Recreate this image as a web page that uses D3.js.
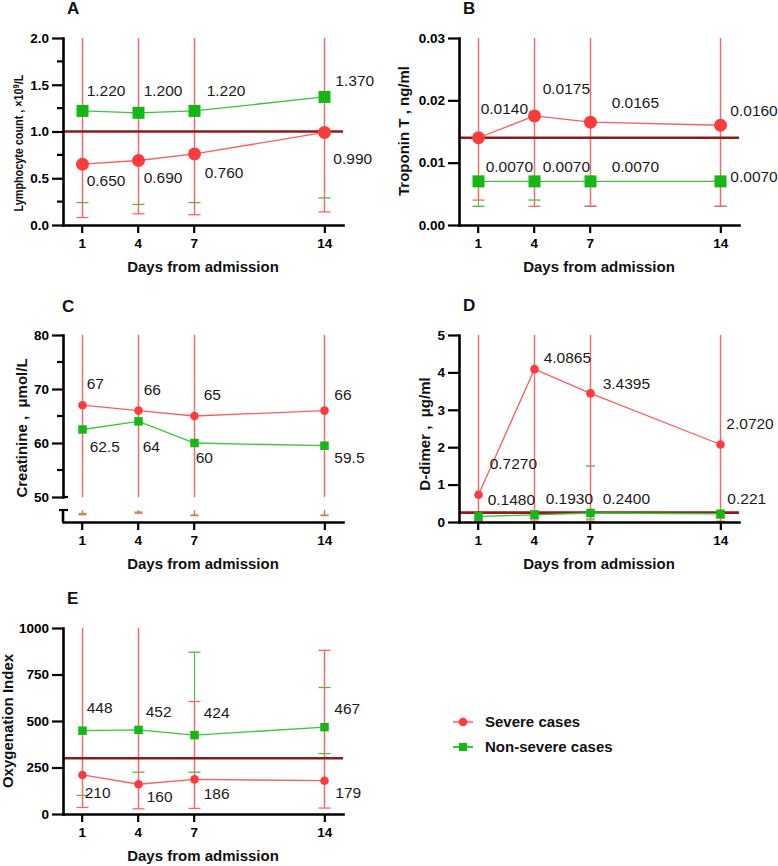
<!DOCTYPE html>
<html><head><meta charset="utf-8">
<script src="https://cdn.jsdelivr.net/npm/d3@7"></script>
<style>
html,body{margin:0;padding:0;background:#fff;}
svg{display:block;}
text{font-family:Arial,"Liberation Sans",Helvetica,sans-serif;}
</style></head><body><svg id="chart" width="778" height="866"></svg>
<script>
// ---------------- data ----------------
const days = [1, 4, 7, 14];
const dayTickLabels = ["1", "4", "7", "14"];
const xDomain = [0, 15];
const seriesNames = ["Severe cases", "Non-severe cases"];
const xTitle = "Days from admission";

// A: lymphocyte count
const lymphSevere = [0.650, 0.690, 0.760, 0.990];
const lymphSevereLow = [0.08, 0.12, 0.11, 0.14];
const lymphSevereHigh = [2.6, 2.6, 2.6, 2.6];
const lymphNonSevere = [1.220, 1.200, 1.220, 1.370];
const lymphNonSevereLow = [0.24, 0.22, 0.24, 0.29];
const lymphNonSevereHigh = [2.4, 2.4, 2.4, 2.4];
const lymphSevereText = ["0.650", "0.690", "0.760", "0.990"];
const lymphNonSevereText = ["1.220", "1.200", "1.220", "1.370"];
const lymphTicks = [0, 0.5, 1.0, 1.5, 2.0];
const lymphTickLabels = ["0.0", "0.5", "1.0", "1.5", "2.0"];
const lymphMinorTicks = [0.25, 0.75, 1.25, 1.75];
const lymphReference = 1.0;

// B: troponin T
const tropSevere = [0.0140, 0.0175, 0.0165, 0.0160];
const tropSevereLow = [0.004, 0.003, 0.003, 0.003];
const tropSevereHigh = [0.04, 0.04, 0.04, 0.04];
const tropNonSevere = [0.0070, 0.0070, 0.0070, 0.0070];
const tropNonSevereLow = [0.003, 0.004, 0.003, 0.003];
const tropNonSevereHigh = [0.035, 0.035, 0.035, 0.035];
const tropSevereText = ["0.0140", "0.0175", "0.0165", "0.0160"];
const tropNonSevereText = ["0.0070", "0.0070", "0.0070", "0.0070"];
const tropTicks = [0, 0.01, 0.02, 0.03];
const tropTickLabels = ["0.00", "0.01", "0.02", "0.03"];
const tropReference = 0.014;

// C: creatinine (axis broken below 50)
const creatSevere = [67, 66, 65, 66];
const creatSevereLow = [27, 33, 24, 24];
const creatSevereHigh = [95, 95, 95, 95];
const creatNonSevere = [62.5, 64, 60, 59.5];
const creatNonSevereLow = [32, 37, 26, 26];
const creatNonSevereHigh = [90, 90, 90, 90];
const creatSevereText = ["67", "66", "65", "66"];
const creatNonSevereText = ["62.5", "64", "60", "59.5"];
const creatTicks = [50, 60, 70, 80];
const creatTickLabels = ["50", "60", "70", "80"];
const creatMinorTicks = [55, 65, 75];
const creatLowerDomain = [0, 45];

// D: D-dimer
const dimerSevere = [0.7270, 4.0865, 3.4395, 2.0720];
const dimerSevereLow = [0.02, 0.02, 0.02, 0.02];
const dimerSevereHigh = [6, 6, 6, 6];
const dimerNonSevere = [0.1480, 0.1930, 0.2400, 0.221];
const dimerNonSevereLow = [0.05, 0.08, 0.08, 0.1];
const dimerNonSevereHigh = [0.25, 0.3, 1.5, 0.3];
const dimerSevereText = ["0.7270", "4.0865", "3.4395", "2.0720"];
const dimerNonSevereText = ["0.1480", "0.1930", "0.2400", "0.221"];
const dimerTicks = [0, 1, 2, 3, 4, 5];
const dimerTickLabels = ["0", "1", "2", "3", "4", "5"];
const dimerReference = 0.25;

// E: oxygenation index
const oxySevere = [210, 160, 186, 179];
const oxySevereLow = [35, 28, 30, 32];
const oxySevereHigh = [1100, 1100, 605, 880];
const oxyNonSevere = [448, 452, 424, 467];
const oxyNonSevereLow = [100, 225, 225, 325];
const oxyNonSevereHigh = [1100, 1100, 870, 680];
const oxySevereText = ["210", "160", "186", "179"];
const oxyNonSevereText = ["448", "452", "424", "467"];
const oxyTicks = [0, 250, 500, 750, 1000];
const oxyTickLabels = ["0", "250", "500", "750", "1000"];
const oxyReference = 300;

// ---------------- style ----------------
const RED = "#fa3c3c", RED_LINE = "#ff5c5c", RED_ERR = "#ff6464";
const GREEN = "#14b814", GREEN_LINE = "#3cc43c", GREEN_ERR = "#3cc43c";
const REF = "#8e1a1a";

// ---------------- panels (data + layout) ----------------
const panels = [
  { letter: "A", letterPos: [67, 14], x0: 63, x1: 343, yTop: 38, yBottom: 225, axisY: 225,
    domain: [0, 2], ticks: lymphTicks, tickLabels: lymphTickLabels, minor: lymphMinorTicks,
    ref: lymphReference, title: ["Lymphocyte count , ×10", "9", "/L"], titleSize: 12, titleLen: 137, titlePos: [19, 143],
    xTitleY: 272, r: 6.5, sq: 12, capW: 12,
    severe: { v: lymphSevere, lo: lymphSevereLow, hi: lymphSevereHigh, text: lymphSevereText,
      off: [[5, 16], [6, 17.5], [11, 19], [9, 26]] },
    non: { v: lymphNonSevere, lo: lymphNonSevereLow, hi: lymphNonSevereHigh, text: lymphNonSevereText,
      off: [[5, -20], [6, -22], [13, -20], [11, -16]] } },
  { letter: "B", letterPos: [463, 14], x0: 459, x1: 739, yTop: 38, yBottom: 225, axisY: 225,
    domain: [0, 0.03], ticks: tropTicks, tickLabels: tropTickLabels, minor: [],
    ref: tropReference, title: ["Troponin T , ng/ml"], titleSize: 15, titlePos: [404, 131],
    xTitleY: 272, r: 6.5, sq: 12, capW: 12,
    severe: { v: tropSevere, lo: tropSevereLow, hi: tropSevereHigh, text: tropSevereText,
      off: [[3, -29], [9, -27], [22, -20], [10, -15]] },
    non: { v: tropNonSevere, lo: tropNonSevereLow, hi: tropNonSevereHigh, text: tropNonSevereText,
      off: [[8, -15], [9, -15], [22, -15], [10, -5]] } },
  { letter: "C", letterPos: [62, 312], x0: 63, x1: 343, yTop: 335, yBottom: 497, axisY: 522,
    lowerDomain: creatLowerDomain, lowerRange: [522, 510],
    domain: [50, 80], ticks: creatTicks, tickLabels: creatTickLabels, minor: creatMinorTicks,
    ref: null, title: ["Creatinine ,  μmol/L"], titleSize: 15, titlePos: [22, 428],
    xTitleY: 569, r: 4.3, sq: 8.5, capW: 8,
    severe: { v: creatSevere, lo: creatSevereLow, hi: creatSevereHigh, text: creatSevereText,
      off: [[5, -22], [6, -21], [10, -21], [10, -16]] },
    non: { v: creatNonSevere, lo: creatNonSevereLow, hi: creatNonSevereHigh, text: creatNonSevereText,
      off: [[8, 17.5], [5, 25.6], [2, 15], [10, 12]] } },
  { letter: "D", letterPos: [463, 311], x0: 459, x1: 739, yTop: 335, yBottom: 522, axisY: 522,
    domain: [0, 5], ticks: dimerTicks, tickLabels: dimerTickLabels, minor: [],
    ref: dimerReference, title: ["D-dimer ,  μg/ml"], titleSize: 15, titlePos: [425, 434],
    xTitleY: 569, r: 4.3, sq: 8.5, capW: 9,
    severe: { v: dimerSevere, lo: dimerSevereLow, hi: dimerSevereHigh, text: dimerSevereText,
      off: [[12, -31], [10, -12], [13, -10], [6, -21]] },
    non: { v: dimerNonSevere, lo: dimerNonSevereLow, hi: dimerNonSevereHigh, text: dimerNonSevereText,
      off: [[10, -17], [12, -16], [13, -14], [7, -15]] } },
  { letter: "E", letterPos: [67, 604], x0: 63, x1: 343, yTop: 628, yBottom: 814, axisY: 814,
    domain: [0, 1000], ticks: oxyTicks, tickLabels: oxyTickLabels, minor: [],
    ref: oxyReference, title: ["Oxygenation Index"], titleSize: 15, titlePos: [8, 721],
    xTitleY: 861, r: 4.3, sq: 8.5, capW: 12,
    severe: { v: oxySevere, lo: oxySevereLow, hi: oxySevereHigh, text: oxySevereText,
      off: [[3, 18], [9, 12], [10, 14], [11, 12]] },
    non: { v: oxyNonSevere, lo: oxyNonSevereLow, hi: oxyNonSevereHigh, text: oxyNonSevereText,
      off: [[5, -23], [8, -18], [10, -23], [10, -19]] } }
];

const svg = d3.select("#chart");
svg.append("rect").attr("width", 778).attr("height", 866).attr("fill", "#fff");

function drawPanel(p) {
  const g = svg.append("g");
  const x = d3.scaleLinear().domain(xDomain).range([p.x0, p.x1]);
  const y = d3.scaleLinear().domain(p.domain).range([p.yBottom, p.yTop]);
  const low = p.lowerDomain ? d3.scaleLinear().domain(p.lowerDomain).range(p.lowerRange) : null;
  const yPos = v => (low && v < p.domain[0]) ? low(v) : y(v);
  const yMax = p.domain[1];

  const seg = (sel, x1, y1, x2, y2, col, w) => sel.append("line")
    .attr("x1", x1).attr("y1", y1).attr("x2", x2).attr("y2", y2)
    .attr("stroke", col).attr("stroke-width", w);

  // error bars (non-severe under severe), snapped to pixel centres
  const eg = g.append("g");
  [[p.non, GREEN_ERR, 1], [p.severe, RED_ERR, 1.4]].forEach(([s, col, w]) => {
    s.v.forEach((v, i) => {
      const xi = Math.round(x(days[i])) + 0.5;
      const lo = s.lo[i], hi = s.hi[i];
      const topY = y(Math.min(hi, yMax));
      if (low && lo < p.domain[0]) {
        seg(eg, xi, low(lo), xi, p.lowerRange[1], col, w);
        seg(eg, xi, y(p.domain[0]), xi, topY, col, w);
      } else {
        seg(eg, xi, yPos(lo), xi, topY, col, w);
      }
      seg(eg, xi - p.capW / 2, yPos(lo), xi + p.capW / 2, yPos(lo), col, 1.3);
      if (hi <= yMax) seg(eg, xi - p.capW / 2, y(hi), xi + p.capW / 2, y(hi), col, 1.3);
    });
  });

  // reference line
  if (p.ref !== null) seg(g, p.x0, y(p.ref), p.x1, y(p.ref), REF, 2.6);

  // series lines
  const lineGen = d3.line().x((d, i) => Math.round(x(days[i])) + 0.5).y(d => y(d));
  g.append("path").attr("d", lineGen(p.non.v)).attr("fill", "none").attr("stroke", GREEN_LINE).attr("stroke-width", 1.3);
  g.append("path").attr("d", lineGen(p.severe.v)).attr("fill", "none").attr("stroke", RED_LINE).attr("stroke-width", 1.3);

  // markers
  g.selectAll(null).data(p.non.v).enter().append("rect")
    .attr("x", (d, i) => Math.round(x(days[i])) + 0.5 - p.sq / 2).attr("y", d => y(d) - p.sq / 2)
    .attr("width", p.sq).attr("height", p.sq).attr("fill", GREEN);
  g.selectAll(null).data(p.severe.v).enter().append("circle")
    .attr("cx", (d, i) => Math.round(x(days[i])) + 0.5).attr("cy", d => y(d)).attr("r", p.r).attr("fill", RED);

  // value labels
  [p.severe, p.non].forEach(s => {
    g.selectAll(null).data(s.v).enter().append("text")
      .attr("x", (d, i) => x(days[i]) + s.off[i][0])
      .attr("y", (d, i) => y(d) + s.off[i][1])
      .attr("dy", "0.35em").attr("font-size", 15.5).attr("fill", "#1a1a1a")
      .text((d, i) => s.text[i]);
  });

  // y axis
  const ya = g.append("g").attr("transform", `translate(${p.x0},0)`)
    .call(d3.axisLeft(y).tickValues(p.ticks).tickFormat((d, i) => p.tickLabels[i])
      .tickSize(11).tickPadding(3).tickSizeOuter(0));
  ya.select(".domain").attr("stroke", "#000").attr("stroke-width", 2.6).attr("stroke-linecap", "square");
  ya.selectAll(".tick line").attr("stroke", "#000").attr("stroke-width", 2.2);
  ya.selectAll(".tick text").attr("font-size", 13.5).attr("font-weight", "bold").attr("fill", "#000")
    .attr("font-family", "Arial, 'Liberation Sans', sans-serif");
  p.minor.forEach(m => seg(g, p.x0 - 6, y(m), p.x0, y(m), "#000", 2.2));

  if (low) {
    // broken axis marks
    seg(g, p.x0, y(p.domain[0]), p.x0 + 5, y(p.domain[0]), "#000", 2.2);
    seg(g, p.x0 - 4, p.lowerRange[1], p.x0 + 5, p.lowerRange[1], "#000", 2.2);
    seg(g, p.x0, p.lowerRange[1], p.x0, p.lowerRange[0], "#000", 2.6);
  }

  // x axis
  const xa = g.append("g").attr("transform", `translate(0,${p.axisY})`)
    .call(d3.axisBottom(x).tickValues(days).tickFormat((d, i) => dayTickLabels[i])
      .tickSize(8).tickPadding(5).tickSizeOuter(0));
  xa.select(".domain").attr("stroke", "#000").attr("stroke-width", 2.6).attr("stroke-linecap", "square");
  xa.selectAll(".tick line").attr("stroke", "#000").attr("stroke-width", 2.2);
  xa.selectAll(".tick text").attr("font-size", 13.5).attr("font-weight", "bold").attr("fill", "#000")
    .attr("font-family", "Arial, 'Liberation Sans', sans-serif");

  // titles
  g.append("text").attr("x", (p.x0 + p.x1) / 2).attr("y", p.xTitleY).attr("text-anchor", "middle")
    .attr("font-size", 15).attr("font-weight", "bold").attr("fill", "#111").text(xTitle);
  const yt = g.append("text").attr("transform", `translate(${p.titlePos[0]},${p.titlePos[1]}) rotate(-90)`)
    .attr("text-anchor", "middle").attr("dy", "0.35em").attr("font-size", p.titleSize)
    .attr("font-weight", "bold").attr("fill", "#111").style("white-space", "pre");
  yt.append("tspan").text(p.title[0]);
  if (p.title.length > 1) {
    yt.append("tspan").attr("baseline-shift", "super").attr("font-size", p.titleSize * 0.7).text(p.title[1]);
    yt.append("tspan").text(p.title[2]);
  }
  if (p.titleLen) {
    const natural = yt.node().getComputedTextLength();
    const k = natural > 0 ? p.titleLen / natural : 1;
    yt.attr("transform", `translate(${p.titlePos[0]},${p.titlePos[1]}) rotate(-90) scale(${k},1)`);
  }
  g.append("text").attr("x", p.letterPos[0]).attr("y", p.letterPos[1]).attr("font-size", 17)
    .attr("font-weight", "bold").attr("fill", "#111").text(p.letter);
}

panels.forEach(drawPanel);

// legend
const legend = svg.append("g");
const legendItems = [
  { name: seriesNames[0], line: "#ff8a8a", fill: RED, shape: "circle", y: 722 },
  { name: seriesNames[1], line: "#3cc43c", fill: GREEN, shape: "rect", y: 747 }
];
legendItems.forEach(it => {
  legend.append("line").attr("x1", 453).attr("x2", 473).attr("y1", it.y).attr("y2", it.y)
    .attr("stroke", it.line).attr("stroke-width", 2.2);
  if (it.shape === "circle") legend.append("circle").attr("cx", 463).attr("cy", it.y).attr("r", 4.3).attr("fill", it.fill);
  else legend.append("rect").attr("x", 459).attr("y", it.y - 4).attr("width", 8).attr("height", 8).attr("fill", it.fill);
  legend.append("text").attr("x", 485).attr("y", it.y).attr("dy", "0.35em").attr("font-size", 15)
    .attr("font-weight", "bold").attr("fill", "#111").text(it.name);
});
</script></body></html>
